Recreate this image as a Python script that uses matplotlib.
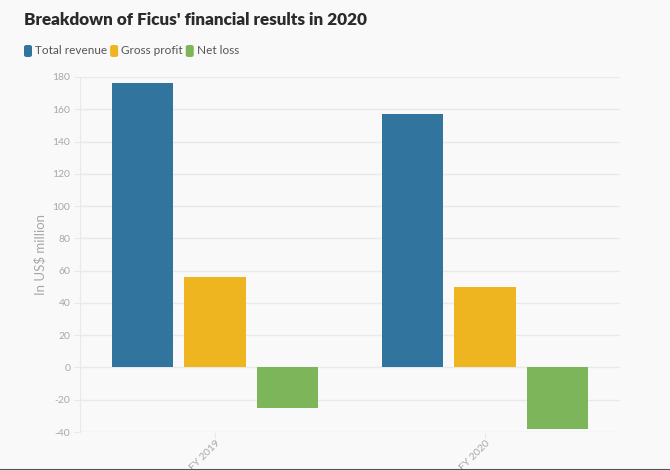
import matplotlib
matplotlib.use("Agg")
import matplotlib.pyplot as plt
from matplotlib.patches import FancyBboxPatch
import numpy as np

categories = ["FY 2019", "FY 2020"]
series_names = ["Total revenue", "Gross profit", "Net loss"]
total_revenue = [176, 157]
gross_profit = [56, 50]
net_loss = [-25, -38]
y_ticks = [-40, -20, 0, 20, 40, 60, 80, 100, 120, 140, 160, 180]

colors = ["#31759f", "#efb520", "#7db65a"]
bg = "#f9f9f9"
grid_c = "#e9e9e9"
tick_c = "#a8a8a8"

plt.rcParams['font.family'] = ['Lato', 'DejaVu Sans']

fig = plt.figure(figsize=(6.7, 4.7), dpi=100, facecolor=bg)
ax = fig.add_axes([80/670, 1-432/470, 540/670, 355/470], facecolor=bg)

x = np.arange(len(categories))
w = 0.226
step = 0.267
for i, vals in enumerate([total_revenue, gross_profit, net_loss]):
    ax.bar(x + (i-1)*step, vals, width=w, color=colors[i], zorder=3, label=series_names[i])

ax.set_xlim(-0.5, 1.5)
ax.set_ylim(-40, 180)
ax.set_yticks(y_ticks)
ax.set_yticklabels([str(v) for v in y_ticks], color=tick_c, fontsize=7.5)
ax.yaxis.grid(True, color=grid_c, linewidth=1, zorder=0)
ax.set_xticks(x)
ax.set_xticklabels(categories, rotation=45, ha='right', rotation_mode='anchor', color=tick_c, fontsize=7.5)
ax.tick_params(axis='y', length=4, color=grid_c, pad=3)
ax.tick_params(axis='x', length=4, color=grid_c, pad=1)
for s in ['top', 'right', 'bottom']:
    ax.spines[s].set_visible(False)
ax.spines['left'].set_color(grid_c)
ax.set_ylabel("In US$ million", color=tick_c, fontsize=9.5, labelpad=4)

fig.text(24/670, 1-20/470, "Breakdown of Ficus' financial results in 2020", fontsize=12.3,
         fontweight='heavy', color="#2b2b2b", va='center', ha='left')

# legend
lx = 24
ly = 51
for name, c in zip(series_names, colors):
    box = FancyBboxPatch((lx/670, 1-(ly+6)/470), 8/670, 12/470,
                         boxstyle="round,pad=0,rounding_size=0.004",
                         transform=fig.transFigure, facecolor=c, edgecolor='none')
    fig.patches.append(box)
    t = fig.text((lx+11)/670, 1-ly/470, name, fontsize=8.5, color="#555555", va='center', ha='left')
    fig.canvas.draw()
    bb = t.get_window_extent()
    lx = bb.x1 + 3

fig.add_artist(plt.Line2D([0, 1], [0.5/470, 0.5/470], color="#555555", linewidth=1.5, transform=fig.transFigure))

fig.savefig("out.png", dpi=100, facecolor=bg)
